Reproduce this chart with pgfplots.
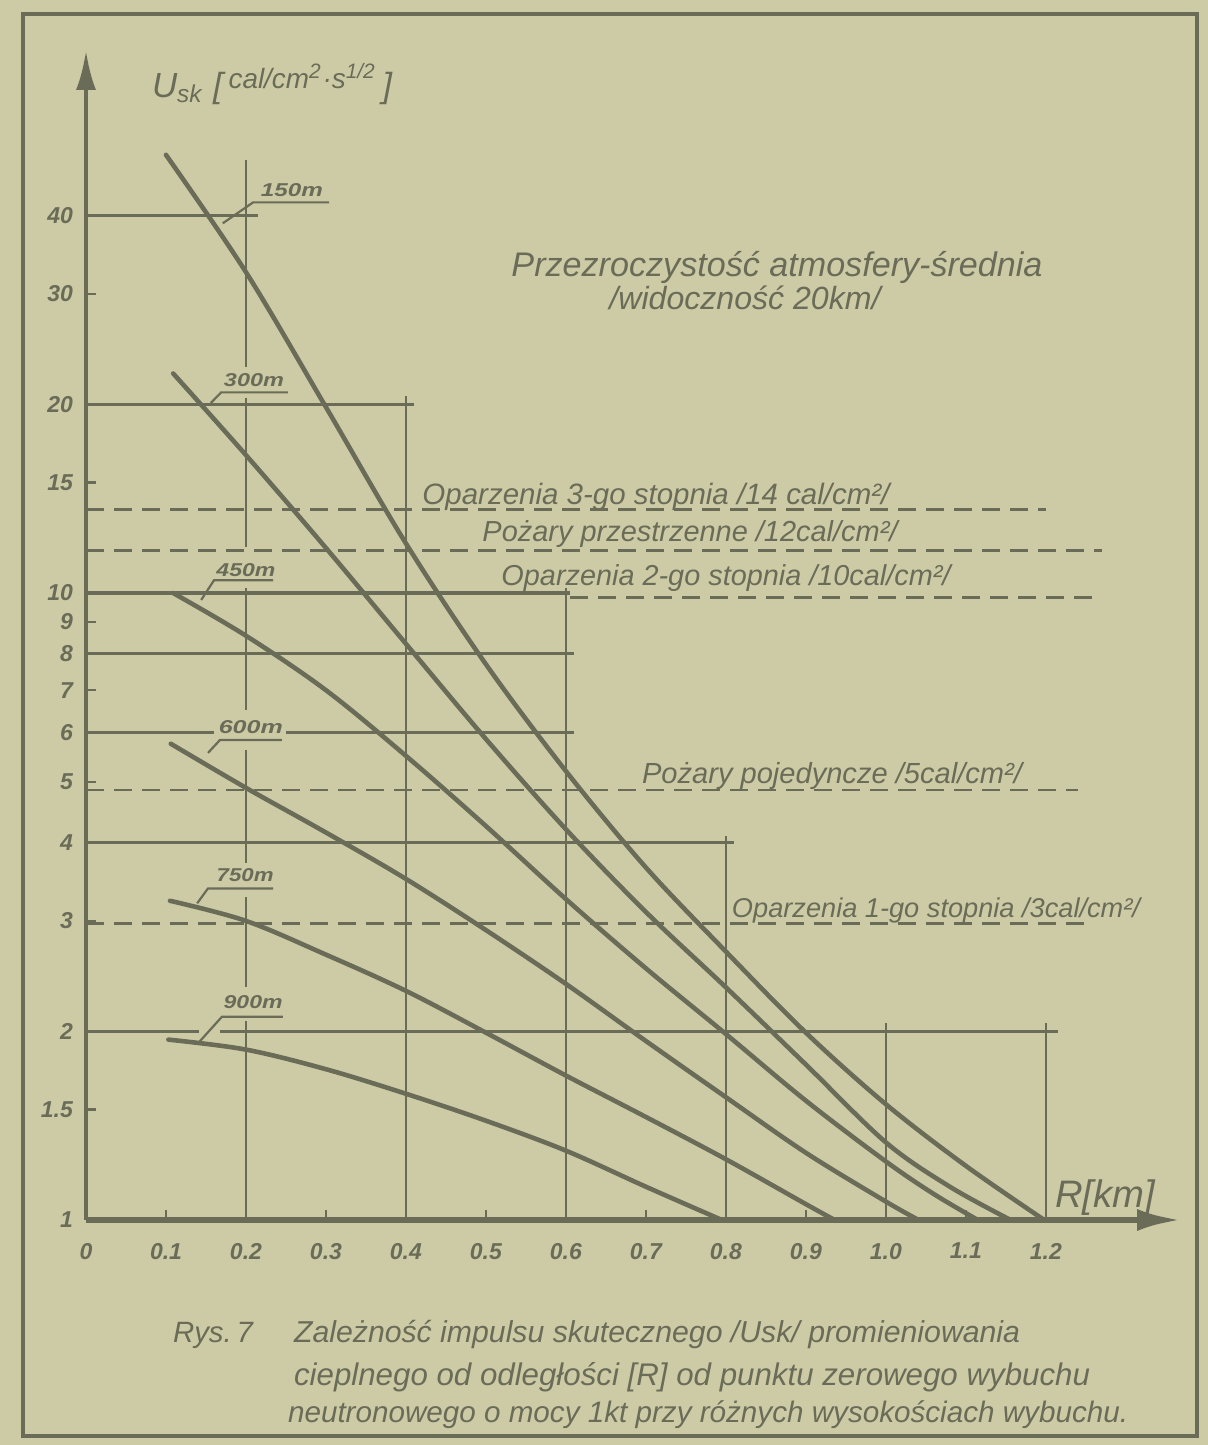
\documentclass[border=0pt]{standalone}
\usepackage{pgfplots}
\pgfplotsset{compat=1.18}
\usepackage{fontspec}
\setmainfont{Liberation Sans}
\usepackage{graphicx}
\usetikzlibrary{arrows.meta}
\definecolor{paper}{RGB}{205,203,166}
\definecolor{ink}{RGB}{106,108,88}
\begin{document}
\begin{tikzpicture}[x=1pt,y=1pt]
\fill[paper] (0,0) rectangle (604,722.5);
\useasboundingbox (0,0) rectangle (604,722.5);
\draw[ink, line width=2pt] (11.5,4.5) rectangle (598.5,715.5);
\begin{axis}[
  at={(43pt,112.5pt)}, anchor=south west,
  scale only axis, width=547.5pt, height=585pt,
  xmin=0, xmax=1.369, ymin=1, ymax=73.5, ymode=log,
  axis lines=left, clip=false,
  x axis line style={ink, line width=3.2pt, -{Latex[length=22pt,width=11pt]}},
  y axis line style={ink, line width=2.4pt, -{Latex[length=20pt,width=10pt]}},
  xtick={0,0.1,0.2,0.3,0.4,0.5,0.6,0.7,0.8,0.9,1.0,1.1,1.2},
  xticklabels={0,0.1,0.2,0.3,0.4,0.5,0.6,0.7,0.8,0.9,1.0,1.1,1.2},
  ytick={1,1.5,2,3,4,5,6,7,8,9,10,15,20,30,40},
  yticklabels={1,1.5,2,3,4,5,6,7,8,9,10,15,20,30,40},
  xminorticks=false, yminorticks=false,
  tick align=inside, major tick length=5pt,
  major tick style={ink, line width=1.2pt},
  tick label style={font=\bfseries\itshape\fontsize{11.5}{11.5}\selectfont, text=ink},
  xticklabel style={yshift=-8pt},
  yticklabel style={xshift=-3pt},
  curve/.style={ink, line width=2.3pt, smooth, tension=0.55, line cap=round},
  hgrid/.style={ink, line width=1.6pt},
  vgrid/.style={ink, line width=1.15pt},
  dash/.style={ink, line width=1.4pt, dash pattern=on 9pt off 5pt},
]
% horizontal guide lines
\addplot[hgrid] coordinates {(0,40) (0.215,40)};
\addplot[hgrid] coordinates {(0,20) (0.41,20)};
\addplot[hgrid] coordinates {(0,10) (0.605,10)};
\addplot[hgrid] coordinates {(0,8) (0.61,8)};
\addplot[hgrid] coordinates {(0,6) (0.16,6)};
\addplot[hgrid] coordinates {(0.25,6) (0.61,6)};
\addplot[hgrid] coordinates {(0,4) (0.81,4)};
\addplot[hgrid] coordinates {(0,2) (0.141,2)};
\addplot[hgrid] coordinates {(0.168,2) (1.215,2)};
% vertical guide lines
\addplot[vgrid] coordinates {(0.2,49) (0.2,22.95)};
\addplot[vgrid] coordinates {(0.2,20.5) (0.2,11.84)};
\addplot[vgrid] coordinates {(0.2,10.2) (0.2,6.51)};
\addplot[vgrid] coordinates {(0.2,5.62) (0.2,3.71)};
\addplot[vgrid] coordinates {(0.2,3.27) (0.2,2.35)};
\addplot[vgrid] coordinates {(0.2,2.08) (0.2,1)};
\addplot[vgrid] coordinates {(0.4,20.6) (0.4,1)};
\addplot[vgrid] coordinates {(0.6,10.2) (0.6,1)};
\addplot[vgrid] coordinates {(0.8,4.1) (0.8,1)};
\addplot[vgrid] coordinates {(1.0,2.06) (1.0,1)};
\addplot[vgrid] coordinates {(1.2,2.06) (1.2,1)};
% dashed threshold lines
\addplot[dash] coordinates {(0,13.6) (1.2,13.6)};
\addplot[dash] coordinates {(0,11.7) (1.27,11.7)};
\addplot[dash] coordinates {(0.605,9.85) (1.27,9.85)};
\addplot[dash] coordinates {(0,4.85) (1.24,4.85)};
\addplot[dash] coordinates {(0,2.97) (1.25,2.97)};
% curves (150, 300, 450, 600, 750, 900 m)
\addplot[curve] coordinates {(0.100,50) (0.20,32.5) (0.30,19.8) (0.40,12.0) (0.50,7.7) (0.60,5.2) (0.70,3.65) (0.80,2.68) (0.90,1.99) (1.0,1.53) (1.10,1.22) (1.198,1.0)};
\addplot[curve] coordinates {(0.109,22.4) (0.20,16.6) (0.30,11.8) (0.40,8.3) (0.50,5.85) (0.60,4.2) (0.70,3.1) (0.80,2.35) (0.90,1.77) (1.0,1.33) (1.08,1.13) (1.156,1.0)};
\addplot[curve] coordinates {(0.109,10) (0.20,8.55) (0.30,7.0) (0.40,5.5) (0.50,4.25) (0.60,3.25) (0.70,2.52) (0.80,1.98) (0.90,1.55) (1.0,1.24) (1.06,1.1) (1.115,1.0)};
\addplot[curve] coordinates {(0.106,5.75) (0.20,4.89) (0.30,4.15) (0.40,3.5) (0.50,2.9) (0.60,2.38) (0.70,1.93) (0.80,1.57) (0.90,1.28) (1.0,1.07) (1.041,1.0)};
\addplot[curve] coordinates {(0.105,3.23) (0.20,3.0) (0.30,2.65) (0.40,2.32) (0.50,1.99) (0.60,1.70) (0.70,1.46) (0.80,1.25) (0.90,1.06) (0.936,1.0)};
\addplot[curve] coordinates {(0.103,1.94) (0.20,1.87) (0.30,1.74) (0.40,1.59) (0.50,1.44) (0.60,1.29) (0.70,1.13) (0.795,1.0)};
% curve labels with leaders
\draw[ink, line width=1.1pt] (axis cs:0.171,38.9) -- (axis cs:0.209,42.0) -- (axis cs:0.304,42.0);
\node[ink] at (axis cs:0.2575,43.9) {\resizebox{31pt}{6.5pt}{\bfseries\itshape 150m}};
\draw[ink, line width=1.1pt] (axis cs:0.156,20.1) -- (axis cs:0.169,20.9) -- (axis cs:0.2525,20.9);
\node[ink] at (axis cs:0.21,21.9) {\resizebox{30pt}{6.5pt}{\bfseries\itshape 300m}};
\draw[ink, line width=1.1pt] (axis cs:0.144,9.75) -- (axis cs:0.16,10.48) -- (axis cs:0.234,10.48);
\node[ink] at (axis cs:0.2,10.88) {\resizebox{29.5pt}{6.5pt}{\bfseries\itshape 450m}};
\draw[ink, line width=1.1pt] (axis cs:0.1525,5.56) -- (axis cs:0.1675,5.83) -- (axis cs:0.245,5.83);
\node[ink] at (axis cs:0.206,6.11) {\resizebox{32pt}{6.5pt}{\bfseries\itshape 600m}};
\draw[ink, line width=1.1pt] (axis cs:0.139,3.20) -- (axis cs:0.1525,3.38) -- (axis cs:0.234,3.38);
\node[ink] at (axis cs:0.199,3.55) {\resizebox{28.5pt}{6.5pt}{\bfseries\itshape 750m}};
\draw[ink, line width=1.1pt] (axis cs:0.141,1.92) -- (axis cs:0.17,2.11) -- (axis cs:0.246,2.11);
\node[ink] at (axis cs:0.209,2.23) {\resizebox{29.5pt}{6.5pt}{\bfseries\itshape 900m}};
\end{axis}
% texts
\node[ink, anchor=west] at (72.5,680.5) {\resizebox{120pt}{!}{\itshape U\textsubscript{sk} [\,\raisebox{2.5pt}{\footnotesize cal/cm\textsuperscript{2}·s\textsuperscript{1/2}}\,]}};
\node[ink] at (388.5,589) {\resizebox{265.5pt}{!}{\itshape Przezroczystość atmosfery-średnia}};
\node[ink] at (372.5,573.5) {\resizebox{135.5pt}{!}{\itshape /widoczność 20km/}};
\node[ink] at (328,474) {\resizebox{233.5pt}{!}{\itshape Oparzenia 3-go stopnia /14 cal/cm²/}};
\node[ink] at (345,455.5) {\resizebox{207.5pt}{!}{\itshape Pożary przestrzenne /12cal/cm²/}};
\node[ink] at (363,433.5) {\resizebox{224.5pt}{!}{\itshape Oparzenia 2-go stopnia /10cal/cm²/}};
\node[ink] at (416,334.5) {\resizebox{190pt}{!}{\itshape Pożary pojedyncze /5cal/cm²/}};
\node[ink] at (468,267.5) {\resizebox{204pt}{!}{\itshape Oparzenia 1-go stopnia /3cal/cm²/}};
\node[ink] at (552.5,123.5) {\resizebox{50pt}{!}{\itshape R[km]}};
\node[ink, anchor=west] at (83,55) {\resizebox{40pt}{!}{\itshape Rys.\,7}};
\node[ink, anchor=west] at (143.5,55) {\resizebox{363pt}{!}{\itshape Zależność impulsu skutecznego /Usk/ promieniowania}};
\node[ink, anchor=west] at (143.5,34) {\resizebox{398pt}{!}{\itshape cieplnego od odległości [R] od punktu zerowego wybuchu}};
\node[ink, anchor=west] at (140.5,15) {\resizebox{420pt}{!}{\itshape neutronowego o mocy 1kt przy różnych wysokościach wybuchu.}};
\end{tikzpicture}
\end{document}
